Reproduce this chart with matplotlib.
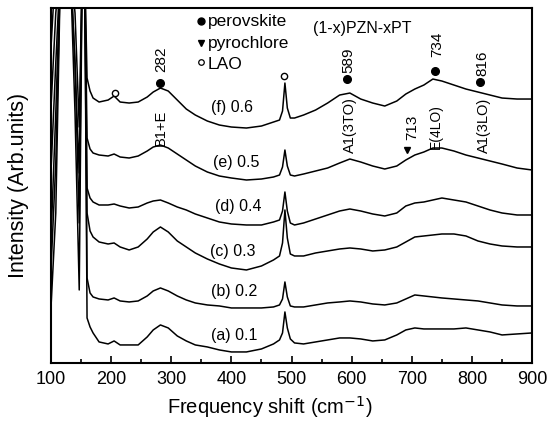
import matplotlib
matplotlib.use("Agg")
import matplotlib.pyplot as plt
from matplotlib.ticker import MultipleLocator

plt.rcParams['font.family'] = ['Liberation Sans', 'DejaVu Sans']

# Raman shift grid (cm-1) (arb. units, offset spectra)
freq = [100, 108, 116, 124, 132, 140, 147, 152, 156, 160, 165, 170, 180, 195, 205, 215,
        230, 245, 260, 270, 282, 295, 310, 325, 340, 360, 380, 400, 425, 450, 470, 480,
        485, 489, 493, 498, 505, 520, 540, 560, 580, 597, 615, 635, 655, 675, 690, 705,
        720, 735, 750, 770, 790, 810, 830, 850, 875, 900]

spec_a = [55, 150, 400, 400, 400, 400, 400, 400, 400, 45, 36, 30, 21, 19, 22, 18,
          18, 18, 26, 33, 38, 35, 27, 22, 18, 16, 13, 11, 11, 14, 19, 23,
          30, 51, 35, 24, 20, 19, 21, 23, 25, 25, 24, 22, 23, 28, 33, 35,
          34, 34, 34, 34, 35, 33, 31, 28, 29, 30]
spec_b = [93, 200, 400, 400, 400, 250, 73, 400, 400, 85, 70, 66, 64, 63, 65, 62,
          61, 62, 67, 72, 75, 72, 67, 63, 60, 58, 57, 55, 55, 55, 56, 58,
          64, 81, 66, 57, 56, 56, 58, 60, 61, 62, 61, 59, 58, 60, 64, 68,
          67, 66, 65, 64, 63, 62, 60, 58, 57, 57]
spec_c = [123, 250, 400, 400, 400, 300, 140, 400, 400, 150, 132, 126, 121, 119, 120, 116,
          113, 116, 124, 131, 136, 131, 122, 116, 110, 104, 99, 95, 93, 97, 103, 107,
          120, 153, 125, 109, 107, 107, 110, 112, 114, 115, 114, 112, 113, 116, 121, 126,
          127, 128, 129, 129, 127, 122, 119, 117, 116, 116]
spec_d = [191, 300, 400, 400, 400, 300, 190, 400, 400, 175, 165, 161, 158, 158, 159, 157,
          155, 156, 160, 162, 163, 160, 156, 153, 149, 145, 141, 139, 138, 138, 141, 143,
          152, 171, 152, 140, 138, 140, 144, 148, 152, 154, 152, 149, 147, 150, 157, 160,
          161, 163, 165, 163, 161, 157, 153, 150, 148, 148]
spec_e = [255, 350, 400, 400, 400, 350, 236, 400, 400, 225, 214, 210, 208, 207, 209, 206,
          205, 207, 212, 216, 218, 215, 209, 203, 197, 191, 187, 185, 183, 184, 186, 188,
          196, 213, 197, 188, 187, 189, 192, 195, 200, 204, 201, 197, 194, 197, 203, 208,
          211, 215, 215, 212, 208, 205, 202, 199, 195, 193]
spec_f = [315, 400, 400, 400, 400, 400, 400, 400, 400, 285, 272, 265, 261, 263, 267, 261,
          260, 261, 266, 271, 275, 272, 263, 254, 248, 242, 238, 236, 235, 237, 241, 243,
          252, 280, 255, 245, 245, 248, 253, 260, 268, 270, 264, 260, 257, 262, 269, 274,
          278, 284, 282, 278, 274, 271, 268, 265, 264, 264]

spectra = [spec_a, spec_b, spec_c, spec_d, spec_e, spec_f]
labels = ['(a) 0.1', '(b) 0.2', '(c) 0.3', '(d) 0.4', '(e) 0.5', '(f) 0.6']
label_pos = [(405, 27), (405, 71), (402, 111), (412, 156), (408, 201), (401, 256)]

fig = plt.figure(figsize=(5.48, 4.24), dpi=100)
ax = fig.add_axes([0.093, 0.144, 0.878, 0.837])

for s in spectra:
    ax.plot(freq, s, color='black', lw=1.1)

for lab, (x, y) in zip(labels, label_pos):
    ax.text(x, y, lab, fontsize=11.5, ha='center', va='center')

# legend-like keys
ax.plot([349], [342], 'o', color='black', ms=5)
ax.text(361, 342, 'perovskite', fontsize=12.5, va='center')
ax.plot([349], [320], 'v', color='black', ms=5)
ax.text(361, 320, 'pyrochlore', fontsize=12.5, va='center')
ax.plot([349], [301], 'o', mfc='white', mec='black', ms=4, mew=0.9)
ax.text(361, 299, 'LAO', fontsize=12.5, va='center')
ax.text(617, 335, '(1-x)PZN-xPT', fontsize=11.5, ha='center', va='center')

# perovskite peaks
ax.plot([282, 592, 738, 813], [280, 284, 292, 281], 'o', color='black', ms=5.5)
ax.text(284, 291, '282', rotation=90, fontsize=11, ha='center', va='bottom')
ax.text(595, 290, '589', rotation=90, fontsize=11, ha='center', va='bottom')
ax.text(743, 306, '734', rotation=90, fontsize=11, ha='center', va='bottom')
ax.text(818, 287, '816', rotation=90, fontsize=11, ha='center', va='bottom')

# mode assignments
ax.text(283, 235, 'B1+E', rotation=90, fontsize=10.5, ha='center', va='center')
ax.text(597, 238, 'A1(3TO)', rotation=90, fontsize=10.5, ha='center', va='center')
ax.text(740, 236, 'E(4LO)', rotation=90, fontsize=10, ha='center', va='center')
ax.text(820, 238, 'A1(3LO)', rotation=90, fontsize=10.5, ha='center', va='center')

# pyrochlore
ax.plot([692], [213], 'v', color='black', ms=5)
ax.text(700, 223, '713', rotation=90, fontsize=11, ha='center', va='bottom')

# LAO substrate
ax.plot([206, 487], [270, 287], 'o', mfc='white', mec='black', ms=4.5, mew=1)

ax.set_xlim(100, 900)
ax.set_ylim(0, 355)
ax.set_yticks([])
ax.xaxis.set_major_locator(MultipleLocator(100))
ax.xaxis.set_minor_locator(MultipleLocator(50))
ax.tick_params(axis='x', which='major', direction='in', length=5, width=1.2, labelsize=13, pad=6)
ax.tick_params(axis='x', which='minor', direction='in', length=3, width=1.2)
for sp in ax.spines.values():
    sp.set_linewidth(1.5)

ax.set_xlabel('Frequency shift (cm$^{-1}$)', fontsize=14.5)
ax.set_ylabel('Intensity (Arb.units)', fontsize=15.5)
ax.xaxis.set_label_coords(0.455, -0.088)
ax.yaxis.set_label_coords(-0.046, 0.5)

fig.savefig('out.png', dpi=100)
